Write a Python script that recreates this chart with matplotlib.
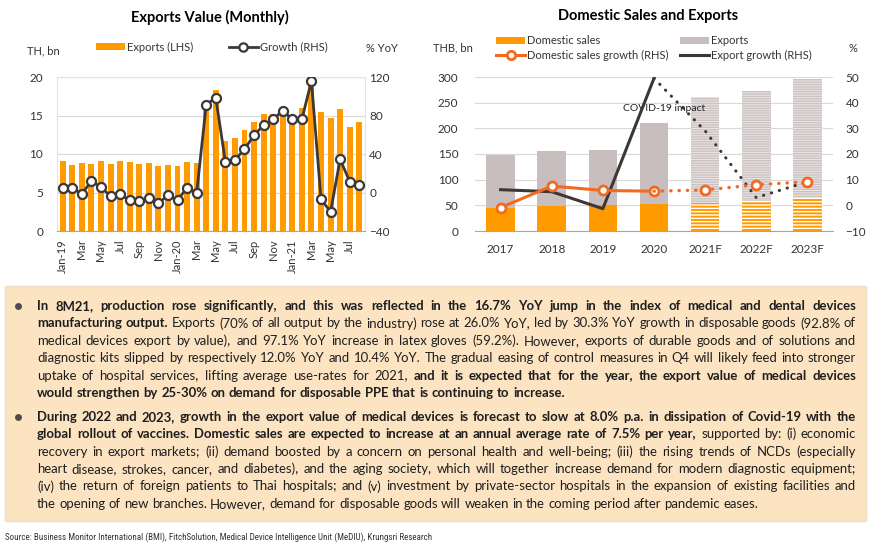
import matplotlib
matplotlib.use("Agg")
import matplotlib.pyplot as plt
import numpy as np
from matplotlib.patches import Patch, Rectangle
from matplotlib.lines import Line2D
from matplotlib import font_manager

# ---------------- data ----------------
months = ["Jan-19", "Feb", "Mar", "Apr", "May", "Jun", "Jul", "Aug", "Sep", "Oct", "Nov", "Dec",
          "Jan-20", "Feb", "Mar", "Apr", "May", "Jun", "Jul", "Aug", "Sep", "Oct", "Nov", "Dec",
          "Jan-21", "Feb", "Mar", "Apr", "May", "Jun", "Jul", "Aug"]
exports_monthly = [9.1, 8.6, 8.8, 8.7, 9.1, 8.7, 9.1, 8.9, 8.7, 8.8, 8.5, 8.6,
                   8.4, 9.0, 8.8, 16.5, 18.3, 11.7, 12.1, 13.1, 14.1, 15.2, 15.2, 15.1,
                   14.8, 16.0, 19.6, 15.5, 14.7, 15.8, 13.5, 14.1]
growth_monthly = [4.5, 4.5, -1.4, 12.0, 5.5, -3.8, -1.7, -8.3, -9.3, -5.9, -11.0, -3.1,
                  -7.9, 4.8, -0.3, 91.3, 98.5, 32.0, 33.8, 45.0, 59.5, 70.0, 76.0, 85.0,
                  76.0, 76.0, 116.0, -7.0, -20.0, 34.5, 11.4, 7.6]

years = ["2017", "2018", "2019", "2020", "2021F", "2022F", "2023F"]
domestic_sales = [45, 48, 50, 53, 54, 58, 65]
total_sales = [148, 155, 157, 210, 261, 273, 297]
exports_annual = [t - d for t, d in zip(total_sales, domestic_sales)]
domestic_growth = [-0.9, 7.5, 5.8, 5.5, 6.0, 8.0, 9.2]
export_growth = [6.1, 5.3, -1.3, 49.5, 29.0, 3.0, 9.2]
n_actual = 4  # first four years are actuals, rest forecast

left_ticks = [0, 5, 10, 15, 20]
right_ticks = [-40, 0, 40, 80, 120]
r_left_ticks = [0, 50, 100, 150, 200, 250, 300]
r_right_ticks = [-10, 0, 10, 20, 30, 40, 50]

# ---------------- fonts ----------------
def find_font(name, stretch="normal"):
    try:
        return font_manager.findfont(font_manager.FontProperties(family=name, stretch=stretch),
                                     fallback_to_default=False)
    except Exception:
        return None

FONT = "Lato" if find_font("Lato") else "DejaVu Sans"
SRC_FONT, SRC_STRETCH, SRC_SIZE = FONT, "normal", 5.6
for fam, st in [("Liberation Sans Narrow", "normal"), ("Roboto Condensed", "normal"),
                ("Open Sans Condensed", "normal"), ("Open Sans", "condensed"),
                ("DejaVu Sans", "condensed"), ("Noto Sans", "condensed")]:
    p = find_font(fam, st)
    if p and ("Condensed" in p or "Narrow" in p or "condensed" in p.lower()):
        SRC_FONT, SRC_STRETCH, SRC_SIZE = fam, st, 6.5
        break
plt.rcParams["font.family"] = [FONT, "DejaVu Sans"]

W, H = 870, 551
fig = plt.figure(figsize=(W / 100, H / 100), dpi=100)
fig.patch.set_facecolor("white")

def fx(px):
    return px / W
def fy(py):
    return 1 - py / H

ORANGE = "#FF9A00"
GRAY_BAR = "#C9BEBE"
LINE_ORANGE = "#F26A21"
DARK = "#3E3737"
GRID = "#D9D9D9"
TICK_COLOR = "#333333"

# ---------------- left chart ----------------
ax1 = fig.add_axes([fx(57), fy(231), fx(365) - fx(57), fy(77) - fy(231)])
x = np.arange(len(months))
ax1.bar(x, exports_monthly, width=0.62, color=ORANGE, zorder=2)
ax1.set_xlim(-0.6, len(months) - 0.4)
ax1.set_ylim(0, 20)
ax1.set_yticks(left_ticks)
ax1.grid(axis="y", color=GRID, lw=0.8, zorder=0)
ax1.set_axisbelow(True)
ax1.set_xticks(x[::2])
ax1.set_xticklabels(months[::2], rotation=90, fontsize=8, color=TICK_COLOR)
for s in ["top", "right", "left"]:
    ax1.spines[s].set_color("#E3E3E3")
    ax1.spines[s].set_linewidth(0.8)
ax1.spines["bottom"].set_color("#A6A6A6")
ax1.tick_params(axis="both", length=0, labelsize=8.5, colors=TICK_COLOR)
ax1.tick_params(axis="y", pad=10)
ax1.tick_params(axis="x", pad=6, labelsize=8)

ax2 = ax1.twinx()
ax2.plot(x, growth_monthly, color=DARK, lw=2, marker="o", ms=6.5, mfc="white", mec=DARK, mew=1.6, zorder=3)
ax2.set_ylim(-40, 120)
ax2.set_yticks(right_ticks)
ax2.tick_params(axis="y", length=0, labelsize=8.5, colors=TICK_COLOR, pad=3)
for s in ax2.spines.values():
    s.set_visible(False)

fig.text(fx(210), fy(17), "Exports Value (Monthly)", ha="center", va="center", fontsize=10.5, fontweight="bold")
fig.text(fx(27), fy(51), "TH, bn", ha="left", va="center", fontsize=8, color=TICK_COLOR)
fig.text(fx(366), fy(48), "% YoY", ha="left", va="center", fontsize=8, color=TICK_COLOR)
h1 = [Patch(facecolor=ORANGE, edgecolor="none"),
      Line2D([0], [0], color=DARK, lw=2, marker="o", ms=6, mfc="white", mec=DARK, mew=1.6)]
fig.legend(h1, ["Exports (LHS)", "Growth (RHS)"], ncol=2, loc="center",
           bbox_to_anchor=(fx(212), fy(47)), frameon=False, fontsize=8, handlelength=2.6,
           handleheight=0.6, columnspacing=3.2, handletextpad=0.2, labelcolor=TICK_COLOR)

# ---------------- right chart ----------------
ax3 = fig.add_axes([fx(475), fy(231), fx(833) - fx(475), fy(77) - fy(231)])
xr = np.arange(len(years))
bw = 0.56
for i in range(len(years)):
    if i < n_actual:
        ax3.bar(xr[i], domestic_sales[i], width=bw, color=ORANGE, zorder=2)
        ax3.bar(xr[i], exports_annual[i], bottom=domestic_sales[i], width=bw, color=GRAY_BAR, zorder=2)
    else:
        ax3.bar(xr[i], domestic_sales[i], width=bw, facecolor=ORANGE, edgecolor="white",
                hatch="-----", lw=0, zorder=2)
        ax3.bar(xr[i], exports_annual[i], bottom=domestic_sales[i], width=bw, facecolor="#ECE6E6",
                edgecolor="#CBC1C1", hatch="-------", lw=0, zorder=2)
ax3.set_xlim(-0.5, len(years) - 0.5)
ax3.set_ylim(0, 300)
ax3.set_yticks(r_left_ticks)
ax3.grid(axis="y", color=GRID, lw=0.8, zorder=0)
ax3.set_axisbelow(True)
ax3.set_xticks(xr)
ax3.set_xticklabels(years)
for s in ["top", "right", "left"]:
    ax3.spines[s].set_visible(False)
ax3.spines["bottom"].set_color("#A6A6A6")
ax3.tick_params(axis="both", length=0, labelsize=8.5, colors=TICK_COLOR)
ax3.tick_params(axis="y", pad=12)
ax3.tick_params(axis="x", pad=9)

ax4 = ax3.twinx()
ax4.set_ylim(-10, 50)
ax4.set_yticks(r_right_ticks)
ax4.tick_params(axis="y", length=0, labelsize=8.5, colors=TICK_COLOR, pad=9)
for s in ax4.spines.values():
    s.set_visible(False)
na = n_actual
ax4.plot(xr[:na], export_growth[:na], color=DARK, lw=2.2, zorder=3)
ax4.plot(xr[na - 1:], export_growth[na - 1:], color=DARK, lw=2.2, ls=(0, (0.1, 2.6)),
         dash_capstyle="round", zorder=3)
ax4.plot(xr[:na], domestic_growth[:na], color=LINE_ORANGE, lw=2.2, marker="o", ms=6.5,
         mfc="white", mec=LINE_ORANGE, mew=2, zorder=4)
ax4.plot(xr[na - 1:], domestic_growth[na - 1:], color=LINE_ORANGE, lw=2.4, ls=(0, (0.1, 2.4)),
         dash_capstyle="round", zorder=4)
ax4.plot(xr[na:], domestic_growth[na:], ls="none", marker="o", ms=6.5, mfc="white",
         mec=LINE_ORANGE, mew=2, zorder=5)
ax3.text(3.2, 238, "COVID-19 impact", ha="center", va="center", fontsize=7.5, color="#222222", zorder=6)

fig.text(fx(648), fy(16), "Domestic Sales and Exports", ha="center", va="center", fontsize=10.5, fontweight="bold")
fig.text(fx(433), fy(48), "THB, bn", ha="left", va="center", fontsize=8, color=TICK_COLOR)
fig.text(fx(849), fy(48), "%", ha="left", va="center", fontsize=8, color=TICK_COLOR)
h2 = [Patch(facecolor=ORANGE, edgecolor="none"),
      Line2D([0], [0], color=LINE_ORANGE, lw=2.2, marker="o", ms=6, mfc="white", mec=LINE_ORANGE, mew=2),
      Patch(facecolor=GRAY_BAR, edgecolor="none"),
      Line2D([0], [0], color=DARK, lw=2.2)]
fig.legend(h2, ["Domestic sales", "Domestic sales growth (RHS)", "Exports", "Export growth (RHS)"],
           ncol=2, loc="center", bbox_to_anchor=(fx(654), fy(48)), frameon=False, fontsize=8,
           handlelength=2.6, handleheight=0.6, columnspacing=1.0, handletextpad=0.2,
           labelspacing=0.35, labelcolor=TICK_COLOR)

# ---------------- text box ----------------
box = Rectangle((fx(5), fy(521)), fx(866) - fx(5), fy(286) - fy(521), transform=fig.transFigure,
                facecolor="#FCE4C3", edgecolor="#EEDCC4", lw=1.0, zorder=0)
fig.patches.append(box)

B, R = True, False
para1 = [
    ([("In 8M21, production rose significantly, and this was reflected in the 16.7% YoY jump in the index of medical and dental devices", B)], True),
    ([("manufacturing output.", B), ("Exports (70% of all output by the industry) rose at 26.0% YoY, led by 30.3% YoY growth in disposable goods (92.8% of", R)], True),
    ([("medical devices export by value), and 97.1% YoY increase in latex gloves (59.2%). However, exports of durable goods and of solutions and", R)], True),
    ([("diagnostic kits slipped by respectively 12.0% YoY and 10.4% YoY. The gradual easing of control measures in Q4 will likely feed into stronger", R)], True),
    ([("uptake of hospital services, lifting average use-rates for 2021,", R), ("and it is expected that for the year, the export value of medical devices", B)], True),
    ([("would strengthen by 25-30% on demand for disposable PPE that is continuing to increase.", B)], False),
]
para2 = [
    ([("During 2022 and 2023, growth in the export value of medical devices is forecast to slow at 8.0% p.a. in dissipation of Covid-19 with the", B)], True),
    ([("global rollout of vaccines. Domestic sales are expected to increase at an annual average rate of 7.5% per year,", B), ("supported by: (i) economic", R)], True),
    ([("recovery in export markets; (ii) demand boosted by a concern on personal health and well-being; (iii) the rising trends of NCDs (especially", R)], True),
    ([("heart disease, strokes, cancer, and diabetes), and the aging society, which will together increase demand for modern diagnostic equipment;", R)], True),
    ([("(iv) the return of foreign patients to Thai hospitals; and (v) investment by private-sector hospitals in the expansion of existing facilities and", R)], True),
    ([("the opening of new branches. However, demand for disposable goods will weaken in the coming period after pandemic eases.", R)], False),
]
ys1 = [306, 323.4, 340.8, 358.2, 375.6, 392.6]
ys2 = [416.7, 434.1, 451.5, 468.9, 486.3, 503.7]
X0, X1 = 37, 856
TXT = "#1E1E1E"

renderer = fig.canvas.get_renderer()

def measure(s, size, bold):
    t = fig.text(0, 0, s, fontsize=size, fontweight="bold" if bold else "normal")
    w = t.get_window_extent(renderer).width
    t.remove()
    return w

def words_of(segs):
    out = []
    for txt, b in segs:
        for w in txt.split():
            out.append((w, b))
    return out

# choose a font size so the widest justified line fits the column
base = 10.0
sp_base = measure("a a", base, False) - measure("aa", base, False)
maxw = 0
for segs, just in para1 + para2:
    ws = words_of(segs)
    tw = sum(measure(w, base, b) for w, b in ws) + sp_base * (len(ws) - 1)
    maxw = max(maxw, tw)
size = base * (X1 - X0) * 0.995 / maxw
size = min(max(size, 8.0), 11.0)
sp = measure("a a", size, False) - measure("aa", size, False)

def draw_para(lines, ys):
    for (segs, just), y in zip(lines, ys):
        ws = words_of(segs)
        ts, widths = [], []
        for w, b in ws:
            t = fig.text(0, fy(y), w, fontsize=size, fontweight="bold" if b else "normal",
                         va="center", ha="left", color=TXT)
            ts.append(t)
            widths.append(t.get_window_extent(renderer).width)
        if just and len(ws) > 1:
            gap = (X1 - X0 - sum(widths)) / (len(ws) - 1)
        else:
            gap = sp
        xx = X0
        for t, w in zip(ts, widths):
            t.set_x(fx(xx))
            xx += w + gap

draw_para(para1, ys1)
draw_para(para2, ys2)
bullets = Line2D([fx(18), fx(18)], [fy(ys1[0]), fy(ys2[0])], transform=fig.transFigure,
                 ls="none", marker="o", ms=5, mfc="#4D4D4D", mec="none")
fig.add_artist(bullets)

fig.text(fx(5), fy(537), "Source: Business Monitor International (BMI), FitchSolution, Medical Device Intelligence Unit (MeDIU), Krungsri Research",
         ha="left", va="center", fontsize=SRC_SIZE, color="#333333", family=[SRC_FONT, "DejaVu Sans"],
         fontstretch=SRC_STRETCH)

fig.savefig("out.png", dpi=100)
